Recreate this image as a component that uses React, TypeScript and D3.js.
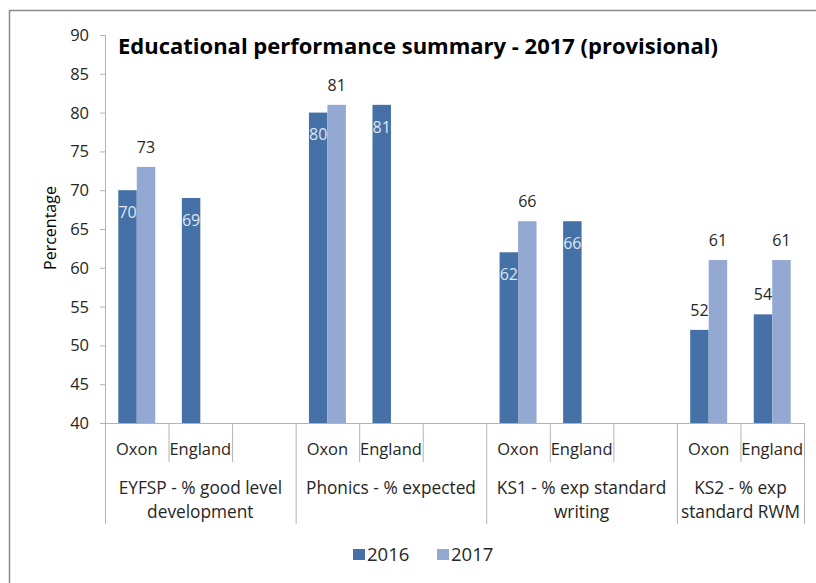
import React from "react";
import * as d3 from "d3";

const title = "Educational performance summary - 2017 (provisional)";
const yLabel = "Percentage";
const seriesNames = ["2016", "2017"];
const groupLabels = [
  ["EYFSP - % good level", "development"],
  ["Phonics - % expected"],
  ["KS1 - % exp standard", "writing"],
  ["KS2 - % exp", "standard RWM"],
];
const groupCategories = [
  ["Oxon", "England", ""],
  ["Oxon", "England", ""],
  ["Oxon", "England", ""],
  ["Oxon", "England"],
];
const values2016 = [
  [70, 69, null],
  [80, 81, null],
  [62, 66, null],
  [52, 54],
];
const values2017 = [
  [73, null, null],
  [81, null, null],
  [66, null, null],
  [61, 61],
];
const yTicks = [40, 45, 50, 55, 60, 65, 70, 75, 80, 85, 90];
// label style for 2016 values per group: inside (white) or outside (black)
const inside2016 = [true, true, true, false];

const colors = ["#4571A7", "#93A9D1"];
const FONT = "'Open Sans', sans-serif";

export default function App() {
  const W = 816, H = 583;
  const left = 105, right = 804, top = 35, bottom = 423;

  const slots: { id: string; cat: string; g: number; i: number }[] = [];
  groupCategories.forEach((cats, g) =>
    cats.forEach((c, i) => slots.push({ id: `${g}-${i}`, cat: c, g, i }))
  );

  const x = d3.scaleBand<string>().domain(slots.map((s) => s.id)).range([left, right]).padding(0);
  const inner = d3.scaleBand<string>().domain(seriesNames).range([0, x.bandwidth()]).paddingInner(0).paddingOuter(0.72);
  const y = d3.scaleLinear().domain([40, 90]).range([bottom, top]);

  const bars: any[] = [];
  slots.forEach((s) => {
    const vals = [values2016[s.g][s.i], values2017[s.g][s.i]];
    vals.forEach((v, k) => {
      if (v == null) return;
      bars.push({ s, k, v, x: (x(s.id) as number) + (inner(seriesNames[k]) as number), w: inner.bandwidth() });
    });
  });

  const groupStarts: number[] = [];
  let idx = 0;
  groupCategories.forEach((cats) => {
    groupStarts.push(x(slots[idx].id) as number);
    idx += cats.length;
  });
  groupStarts.push(right);

  const axisColor = "#b3b3b3";
  const txt = "#262626";

  return (
    <svg width={W} height={H} style={{ position: "absolute", left: 0, top: 0, background: "#fff" }} fontFamily={FONT}>
      <rect x={9.5} y={10.5} width={W} height={H} fill="#fff" stroke="#8a8a8a" strokeWidth={1.5} />
      <text x={118} y={54} fontSize={21} fontWeight="bold" fill="#000" textLength={600} lengthAdjust="spacingAndGlyphs">{title}</text>

      {/* y axis */}
      <line x1={left + 0.5} x2={left + 0.5} y1={top} y2={bottom} stroke={axisColor} />
      {yTicks.map((t) => (
        <g key={t}>
          <line x1={left - 5} x2={left} y1={y(t) + 0.5} y2={y(t) + 0.5} stroke={axisColor} />
          <text x={89} y={y(t)} dy="0.36em" textAnchor="end" fontSize={16.5} fill={txt}>{t}</text>
        </g>
      ))}
      <text transform={`translate(56,228) rotate(-90)`} textAnchor="middle" fontSize={16} fill="#000">{yLabel}</text>

      {/* bars */}
      {bars.map((b, j) => (
        <rect key={j} x={b.x} y={y(b.v)} width={b.w} height={bottom - y(b.v)} fill={colors[b.k]} />
      ))}

      {/* x axis */}
      <line x1={left - 5} x2={right} y1={bottom + 0.5} y2={bottom + 0.5} stroke={axisColor} />
      {slots.map((s) => {
        const x0 = x(s.id) as number;
        const isGroupStart = s.i === 0;
        return (
          <g key={s.id}>
            {!isGroupStart && (
              <line x1={x0 + 0.5} x2={x0 + 0.5} y1={bottom} y2={462} stroke={axisColor} />
            )}
            {s.cat && (
              <text x={x0 + x.bandwidth() / 2} y={449} dy="0.36em" textAnchor="middle" fontSize={16.5} fill={txt}>{s.cat}</text>
            )}
          </g>
        );
      })}
      {groupStarts.map((gx, i) => (
        <line key={i} x1={gx + 0.5} x2={gx + 0.5} y1={bottom} y2={524} stroke={axisColor} />
      ))}
      {groupLabels.map((lines, g) => {
        const cx = (groupStarts[g] + groupStarts[g + 1]) / 2;
        return (
          <text key={g} textAnchor="middle" fontSize={17.3} fill={txt}>
            {lines.map((l, li) => (
              <tspan key={li} x={cx} y={488 + li * 24} dy="0.36em">{l}</tspan>
            ))}
          </text>
        );
      })}

      {/* data labels */}
      {bars.map((b, j) => {
        const cx = b.x + b.w / 2;
        const inside = b.k === 0 && inside2016[b.s.g];
        return (
          <text key={"l" + j} x={cx} y={inside ? y(b.v) + 22 : y(b.v) - 20} dy="0.36em" textAnchor="middle" fontSize={16}
            fill={inside ? "#dfe6f2" : txt}>{b.v}</text>
        );
      })}

      {/* legend */}
      {seriesNames.map((n, i) => {
        const lx = 353 + i * 84;
        return (
          <g key={n}>
            <rect x={lx} y={549} width={12} height={11} fill={colors[i]} />
            <text x={lx + 14} y={554} dy="0.36em" fontSize={18.5} fill={txt}>{n}</text>
          </g>
        );
      })}
    </svg>
  );
}
